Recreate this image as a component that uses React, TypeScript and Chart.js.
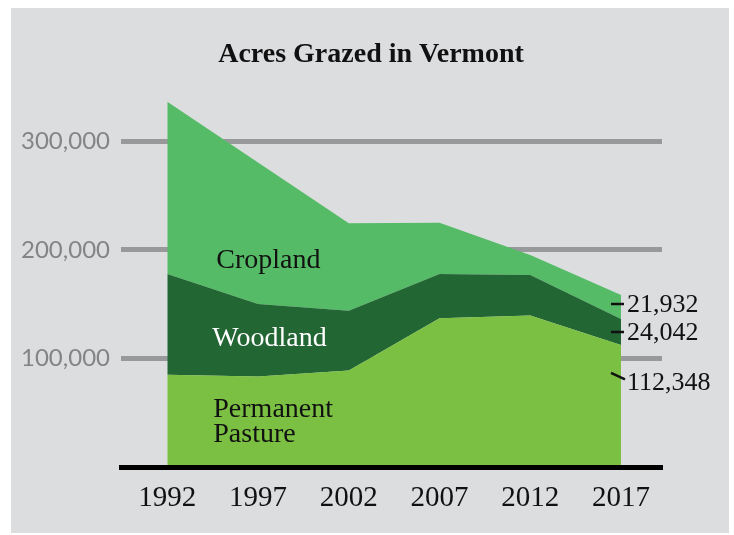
import React, { useEffect, useRef } from "react";
import { Chart, registerables } from "chart.js";

Chart.register(...registerables);

const years = [1992, 1997, 2002, 2007, 2012, 2017];
const pasture = [84900, 83400, 88900, 137100, 139500, 112348];
const woodland = [92900, 66800, 54900, 40700, 37400, 24042];
const cropland = [158600, 130200, 80700, 47200, 18400, 21932];
const yTicks = [0, 100000, 200000, 300000];
const titleText = "Acres Grazed in Vermont";
const endLabels = ["21,932", "24,042", "112,348"];

const SERIF = "'Liberation Serif', 'DejaVu Serif', serif";

const decorPlugin = {
  id: "decor",
  beforeDraw(chart: any) {
    const { ctx } = chart;
    ctx.save();
    ctx.fillStyle = "#ffffff";
    ctx.fillRect(0, 0, chart.width, chart.height);
    ctx.fillStyle = "#dcdddf";
    ctx.fillRect(11, 8, 718, 525);
    ctx.restore();
  },
  afterDraw(chart: any) {
    const { ctx, scales } = chart;
    const x = scales.x;
    const y = scales.y;
    ctx.save();
    // title
    ctx.fillStyle = "#111111";
    ctx.font = `bold 28px ${SERIF}`;
    ctx.textAlign = "center";
    ctx.textBaseline = "middle";
    ctx.fillText(titleText, 371, 55);

    // area labels
    const x0 = x.getPixelForValue(years[0]);
    ctx.textAlign = "left";
    ctx.textBaseline = "alphabetic";
    ctx.font = `28px ${SERIF}`;
    ctx.fillStyle = "#111111";
    ctx.fillText("Cropland", x0 + 49, y.getPixelForValue(183000));
    ctx.fillStyle = "#ffffff";
    ctx.fillText("Woodland", x0 + 45, y.getPixelForValue(111000));
    ctx.fillStyle = "#111111";
    ctx.fillText("Permanent", x0 + 46, y.getPixelForValue(46500));
    ctx.fillText("Pasture", x0 + 46, y.getPixelForValue(23000));

    // end labels
    const n = years.length - 1;
    const xe = x.getPixelForValue(years[n]);
    const pTop = pasture[n];
    const wTop = pTop + woodland[n];
    const cTop = wTop + cropland[n];
    const yCrop = y.getPixelForValue((wTop + cTop) / 2) - 2;
    const yWood = y.getPixelForValue((pTop + wTop) / 2) + 1;
    const yPast = y.getPixelForValue(100000) + 25;
    ctx.font = `26px ${SERIF}`;
    ctx.fillStyle = "#111111";
    ctx.textBaseline = "middle";
    ctx.fillText(endLabels[0], xe + 6, yCrop);
    ctx.fillText(endLabels[1], xe + 6, yWood);
    ctx.fillText(endLabels[2], xe + 6, yPast);

    ctx.strokeStyle = "#111111";
    ctx.lineWidth = 2.5;
    ctx.beginPath();
    ctx.moveTo(xe - 10, yCrop - 1);
    ctx.lineTo(xe + 3, yCrop - 1);
    ctx.moveTo(xe - 10, yWood - 1);
    ctx.lineTo(xe + 3, yWood - 1);
    ctx.moveTo(xe - 10, yPast - 10.5);
    ctx.lineTo(xe + 4, yPast - 4);
    ctx.stroke();
    ctx.restore();
  },
};

export default function App() {
  const ref = useRef<HTMLCanvasElement>(null);

  useEffect(() => {
    if (!ref.current) return;
    const mk = (arr: number[]) => years.map((yr, i) => ({ x: yr, y: arr[i] }));
    const chart = new Chart(ref.current, {
      type: "line",
      data: {
        datasets: [
          {
            label: "Permanent Pasture",
            data: mk(pasture),
            backgroundColor: "#7bc043",
            borderWidth: 0,
            pointRadius: 0,
            fill: "origin",
            tension: 0,
          },
          {
            label: "Woodland",
            data: mk(woodland),
            backgroundColor: "#226634",
            borderWidth: 0,
            pointRadius: 0,
            fill: "-1",
            tension: 0,
          },
          {
            label: "Cropland",
            data: mk(cropland),
            backgroundColor: "#55bb66",
            borderWidth: 0,
            pointRadius: 0,
            fill: "-1",
            tension: 0,
          },
        ],
      },
      options: {
        responsive: false,
        animation: false,
        devicePixelRatio: 1,
        layout: { padding: { top: 87, right: 72, left: 0, bottom: 0 } },
        plugins: {
          legend: { display: false },
          title: { display: false },
          tooltip: { enabled: false },
        },
        scales: {
          x: {
            type: "linear",
            min: 1989.449,
            max: 2019.259,
            afterBuildTicks: (s: any) => {
              s.ticks = years.map((v) => ({ value: v }));
            },
            afterFit: (s: any) => {
              s.height = 68;
            },
            grid: { display: false, drawTicks: false },
            border: { display: true, color: "#000000", width: 5, z: 1 },
            ticks: {
              autoSkip: false,
              maxRotation: 0,
              padding: 14,
              color: "#111111",
              font: { family: SERIF, size: 29 },
              callback: (v: any) => String(v),
            },
          },
          y: {
            type: "linear",
            stacked: true,
            min: 0,
            max: 350000,
            afterBuildTicks: (s: any) => {
              s.ticks = yTicks.map((v) => ({ value: v }));
            },
            afterFit: (s: any) => {
              s.width = 121;
            },
            grid: {
              drawTicks: false,
              lineWidth: 5,
              color: (c: any) => (c.tick && c.tick.value === 0 ? "rgba(0,0,0,0)" : "#98999b"),
            },
            border: { display: false },
            ticks: {
              padding: 11,
              color: "#838486",
              font: { family: "Lato, 'Open Sans', sans-serif", size: 24, weight: "400" },
              callback: (v: any) => (v === 0 ? "" : Number(v).toLocaleString("en-US")),
            },
          },
        },
      },
      plugins: [decorPlugin],
    } as any);
    return () => chart.destroy();
  }, []);

  return (
    <div style={{ position: "absolute", left: 0, top: 0, width: 734, height: 535, background: "#fff" }}>
      <canvas ref={ref} width={734} height={535} style={{ width: 734, height: 535, display: "block" }} />
    </div>
  );
}
